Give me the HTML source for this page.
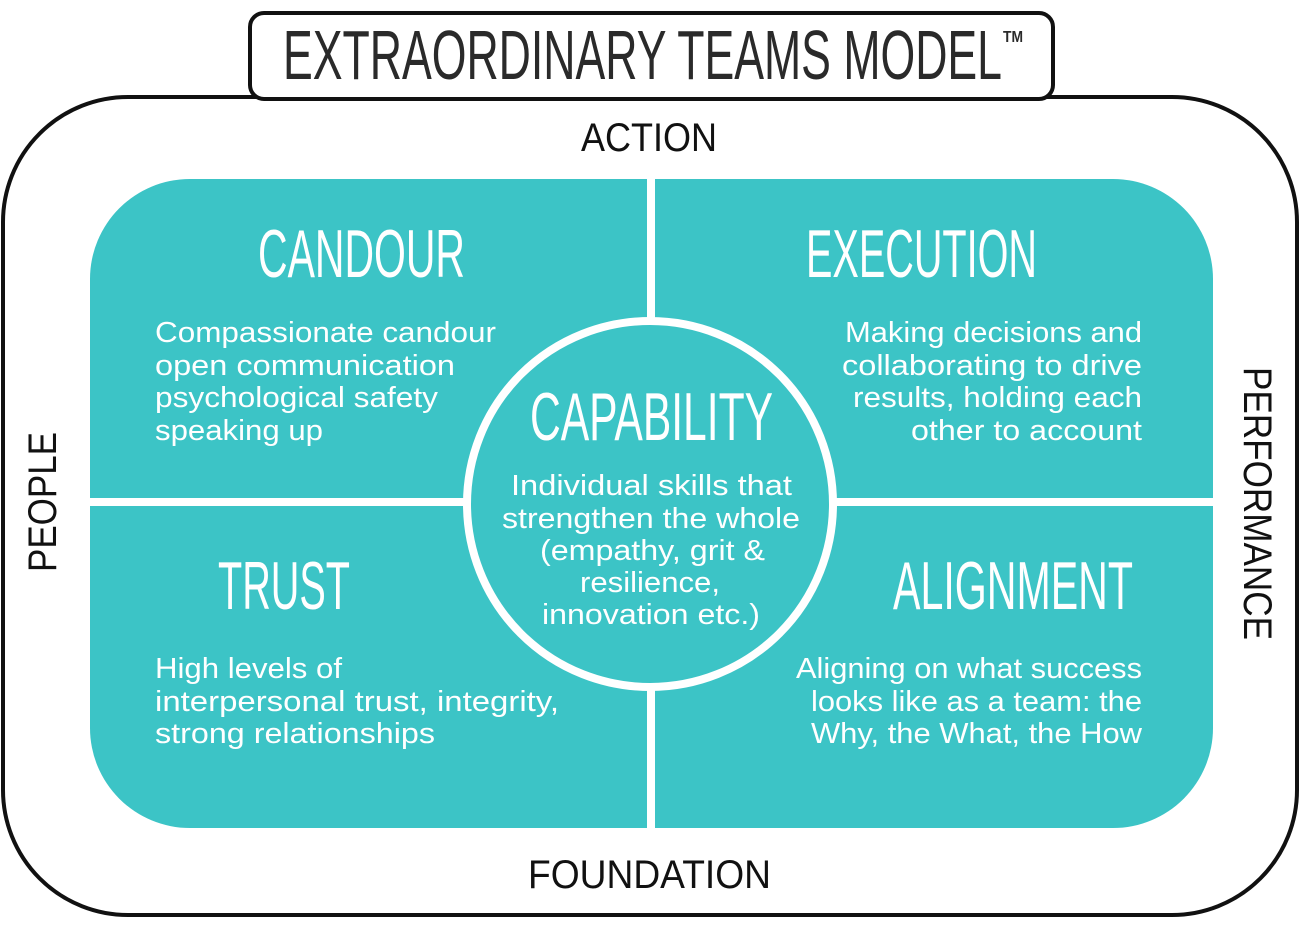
<!DOCTYPE html>
<html><head><meta charset="utf-8"><style>
html,body{margin:0;padding:0;background:#fff;width:1300px;height:926px;overflow:hidden}
svg{display:block}
.h{font-family:"Liberation Sans Narrow","Liberation Sans",sans-serif;fill:#fff}
.b{font-family:"Liberation Sans",sans-serif;font-size:29px;fill:#fff}
.l{font-family:"Liberation Sans",sans-serif;font-size:40px;fill:#111}
</style></head><body>
<svg width="1300" height="926" viewBox="0 0 1300 926" xmlns="http://www.w3.org/2000/svg">
<rect x="3" y="97" width="1294" height="818" rx="125" fill="#fff" stroke="#111" stroke-width="4"/>
<rect x="90" y="179" width="1123" height="649" rx="100" fill="#3cc4c6"/>
<rect x="647" y="175" width="8" height="656" fill="#fff"/>
<rect x="86" y="498" width="1131" height="8" fill="#fff"/>
<circle cx="650" cy="504" r="183" fill="#3cc4c6" stroke="#fff" stroke-width="8"/>
<rect x="250" y="13" width="803" height="86" rx="14" fill="#fff" stroke="#111" stroke-width="4"/>
<text x="283" y="79" font-family="Liberation Sans Narrow,Liberation Sans,sans-serif" font-size="70" fill="#2a2a2a" textLength="719" lengthAdjust="spacingAndGlyphs">EXTRAORDINARY TEAMS MODEL</text>
<text x="1003" y="42" font-family="Liberation Sans,sans-serif" font-size="16" font-weight="bold" fill="#2a2a2a" textLength="20" lengthAdjust="spacingAndGlyphs">TM</text>
<text class="l" x="581" y="151" textLength="136" lengthAdjust="spacingAndGlyphs">ACTION</text>
<text class="l" x="528" y="888" textLength="243" lengthAdjust="spacingAndGlyphs">FOUNDATION</text>
<text class="l" transform="translate(56,572) rotate(-90)" x="0" y="0" textLength="140" lengthAdjust="spacingAndGlyphs">PEOPLE</text>
<text class="l" transform="translate(1244,367) rotate(90)" x="0" y="0" textLength="273" lengthAdjust="spacingAndGlyphs">PERFORMANCE</text>

<text class="h" x="258" y="277" font-size="68" textLength="207" lengthAdjust="spacingAndGlyphs">CANDOUR</text>
<text class="h" x="806" y="277" font-size="68" textLength="231" lengthAdjust="spacingAndGlyphs">EXECUTION</text>
<text class="h" x="530" y="440" font-size="68" textLength="243" lengthAdjust="spacingAndGlyphs">CAPABILITY</text>
<text class="h" x="218" y="609" font-size="68" textLength="132" lengthAdjust="spacingAndGlyphs">TRUST</text>
<text class="h" x="893" y="609" font-size="68" textLength="240" lengthAdjust="spacingAndGlyphs">ALIGNMENT</text>

<g class="b">
<text x="155" y="342" textLength="341" lengthAdjust="spacingAndGlyphs">Compassionate candour</text>
<text x="155" y="375" textLength="300" lengthAdjust="spacingAndGlyphs">open communication</text>
<text x="155" y="407" textLength="283" lengthAdjust="spacingAndGlyphs">psychological safety</text>
<text x="155" y="440" textLength="168" lengthAdjust="spacingAndGlyphs">speaking up</text>

<text x="845" y="342" textLength="297" lengthAdjust="spacingAndGlyphs">Making decisions and</text>
<text x="842" y="375" textLength="300" lengthAdjust="spacingAndGlyphs">collaborating to drive</text>
<text x="853" y="407" textLength="289" lengthAdjust="spacingAndGlyphs">results, holding each</text>
<text x="911" y="440" textLength="231" lengthAdjust="spacingAndGlyphs">other to account</text>

<text x="511" y="495" textLength="281" lengthAdjust="spacingAndGlyphs">Individual skills that</text>
<text x="502" y="528" textLength="298" lengthAdjust="spacingAndGlyphs">strengthen the whole</text>
<text x="540" y="560" textLength="225" lengthAdjust="spacingAndGlyphs">(empathy, grit &amp;</text>
<text x="580" y="592" textLength="140" lengthAdjust="spacingAndGlyphs">resilience,</text>
<text x="542" y="624" textLength="218" lengthAdjust="spacingAndGlyphs">innovation etc.)</text>

<text x="155" y="678" textLength="187" lengthAdjust="spacingAndGlyphs">High levels of</text>
<text x="155" y="711" textLength="404" lengthAdjust="spacingAndGlyphs">interpersonal trust, integrity,</text>
<text x="155" y="743" textLength="280" lengthAdjust="spacingAndGlyphs">strong relationships</text>

<text x="796" y="678" textLength="346" lengthAdjust="spacingAndGlyphs">Aligning on what success</text>
<text x="811" y="711" textLength="331" lengthAdjust="spacingAndGlyphs">looks like as a team: the</text>
<text x="811" y="743" textLength="331" lengthAdjust="spacingAndGlyphs">Why, the What, the How</text>
</g>
</svg>
</body></html>
